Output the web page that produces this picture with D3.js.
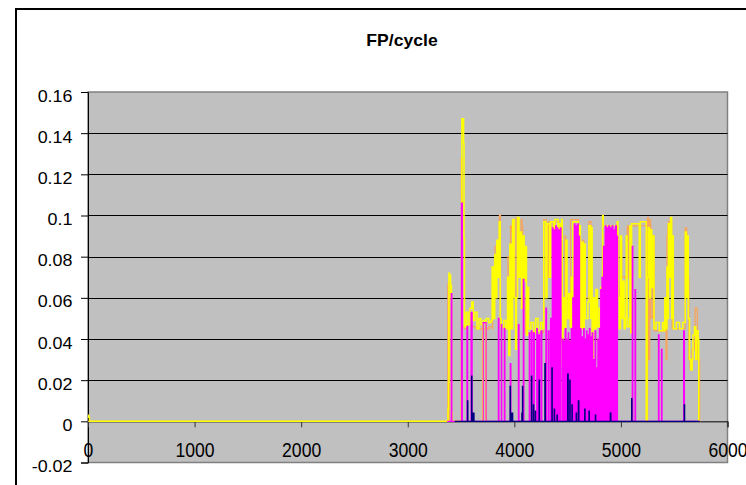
<!DOCTYPE html>
<html><head><meta charset="utf-8">
<script src="https://cdn.jsdelivr.net/npm/d3@7/dist/d3.min.js"></script>
<style>
body{margin:0;background:#fff;}
svg{display:block;font-family:"Liberation Sans",Arial,Helvetica,sans-serif;}
</style>
</head><body>
<svg id="chart" width="746" height="485"></svg>
<script>
// ---------- data ----------
const chartTitle = "FP/cycle";
const xTicks = [0, 1000, 2000, 3000, 4000, 5000, 6000];
const xTickLabels = ["0", "1000", "2000", "3000", "4000", "5000", "6000"];
const yTicks = [-0.02, 0, 0.02, 0.04, 0.06, 0.08, 0.1, 0.12, 0.14, 0.16];
const yTickLabels = ["-0.02", "0", "0.02", "0.04", "0.06", "0.08", "0.1", "0.12", "0.14", "0.16"];

// orange series [x, value]
const orangePts = [[0,0],[3372,0],[3376,0.066],[3382,0.068],[3386,0.062],[3390,0],[3500,0],[3503,0.128],[3508,0.11],[3512,0.046],[3530,0.045],[3560,0.047],[3600,0.046],[3640,0.045],[3700,0.045],[3760,0.046],[3792,0.045],[3796,0.07],[3815,0.064],[3819,0.085],[3840,0.08],[3844,0.07],[3856,0.075],[3860,0.1],[3866,0.1],[3870,0.046],[3900,0.045],[3936,0.046],[3940,0.08],[3960,0.085],[3964,0.095],[3976,0.092],[3980,0.06],[4010,0.055],[4016,0.099],[4030,0.097],[4036,0.075],[4060,0.08],[4064,0.098],[4072,0.095],[4078,0.06],[4100,0.055],[4104,0.043],[4270,0.044],[4276,0.098],[4300,0.095],[4306,0.07],[4316,0.07],[4320,0.097],[4340,0.095],[4344,0.08],[4360,0.082],[4364,0.097],[4420,0.096],[4424,0.05],[4470,0.052],[4474,0.09],[4482,0.088],[4486,0.06],[4524,0.06],[4528,0.098],[4600,0.097],[4604,0.07],[4640,0.065],[4644,0.088],[4652,0.085],[4656,0.06],[4694,0.06],[4698,0.097],[4720,0.095],[4724,0.05],[4824,0.05],[4828,0.09],[4960,0.095],[4966,0.09],[4972,0.06],[4990,0.065],[4994,0.088],[5004,0.085],[5008,0.07],[5056,0.07],[5060,0.095],[5070,0.092],[5074,0.07],[5094,0.07],[5098,0.095],[5236,0.097],[5240,0],[5246,0],[5250,0.099],[5258,0.098],[5262,0.03],[5266,0.03],[5270,0.098],[5278,0.095],[5282,0.05],[5296,0.05],[5300,0.09],[5308,0.088],[5312,0.044],[5410,0.044],[5414,0.06],[5420,0.058],[5424,0.03],[5428,0.03],[5432,0.09],[5440,0.095],[5446,0.097],[5452,0.085],[5458,0.085],[5462,0.099],[5470,0.097],[5476,0.09],[5482,0.045],[5600,0.045],[5604,0.094],[5616,0.092],[5620,0.09],[5626,0.07],[5632,0.07],[5638,0.03],[5650,0.025],[5664,0.025],[5668,0.035],[5690,0.04],[5696,0.055],[5714,0.054],[5718,0.03],[5734,0.03],[5738,0],[5744,0]];

// yellow series [x, value] (value holds until the next x)
const yellowPts = [[0,0.003],[6,0.002],[14,0],[3372,0],[3378,0.006],[3382,0.019],[3386,0.072],[3392,0.069],[3397,0.071],[3402,0.06],[3406,0.066],[3410,0.004],[3416,0],
[3500,0],[3504,0.02],[3508,0.147],[3514,0.141],[3520,0.147],[3524,0.135],[3528,0.089],
[3532,0.046],[3548,0.053],[3566,0.047],[3584,0.055],[3600,0.058],[3614,0.049],[3630,0.053],[3650,0.045],[3668,0.05],[3686,0.047],[3703,0],[3708,0.049],[3732,0],[3736,0.05],[3760,0.048],
[3782,0.049],[3792,0.075],[3806,0.05],[3816,0.081],[3828,0.06],[3836,0.088],[3848,0.07],[3858,0.097],[3868,0.05],[3876,0.046],[3900,0.049],[3920,0.045],[3936,0.07],[3948,0.032],[3958,0.086],[3970,0.045],[3984,0.098],[3998,0.06],[4012,0.035],[4020,0.06],[4030,0.099],[4044,0.07],[4056,0.092],[4068,0.055],[4080,0.09],[4092,0.068],[4104,0.085],[4114,0.042],[4124,0.065],[4134,0.045],[4156,0.048],[4180,0.043],[4200,0.05],[4222,0.044],[4246,0.048],[4266,0.045],
[4276,0.097],[4296,0.06],[4306,0.096],[4330,0.07],[4340,0.097],[4370,0.09],[4380,0.098],[4410,0.06],[4420,0.096],[4436,0.055],[4444,0.098],[4450,0.028],
[4456,0.06],[4470,0.045],[4484,0.088],[4494,0.05],[4510,0.062],[4524,0.046],[4534,0.07],[4544,0.045],
[4550,0.097],[4600,0.06],[4608,0.095],[4620,0.045],
[4632,0.087],[4646,0.045],[4656,0.086],[4666,0.05],[4690,0.058],[4700,0.095],[4716,0.05],[4722,0.094],[4730,0.03],
[4738,0.06],[4752,0.045],[4766,0.064],[4780,0.046],[4796,0.055],[4812,0.065],[4822,0.05],[4828,0.1],
[4834,0.095],[4966,0.097],
[4972,0.06],[4984,0.045],[4996,0.09],[5006,0.05],[5018,0.068],[5030,0.045],
[5040,0.05],[5050,0.09],[5058,0.046],[5078,0.05],
[5084,0.095],[5092,0.043],[5100,0.096],[5172,0.07],[5182,0.097],[5238,0],[5242,0],
[5246,0.07],[5256,0.094],[5268,0.06],[5278,0.093],[5290,0.065],[5300,0.09],[5310,0.045],
[5330,0.048],[5360,0.044],[5390,0.048],[5406,0.044],
[5412,0.06],[5424,0.045],[5432,0.075],[5440,0.05],[5446,0.096],[5458,0.07],[5466,0.099],[5476,0.05],[5484,0.09],[5492,0.045],
[5520,0.048],[5550,0.045],[5580,0.048],
[5604,0.092],[5614,0.06],[5622,0.09],[5632,0.05],
[5644,0.03],[5656,0.025],[5668,0.03],
[5676,0.042],[5690,0.046],[5702,0.03],[5712,0.044],[5724,0.04],[5730,0],[5740,0]];

// magenta series: flat at 0 over its range, with spikes [xStart, xEnd, value]
const magentaRange = [3370, 5740];
const magentaSpikes = [[3408,3414,0.062],[3504,3512,0.106],[3555,3562,0.046],[3594,3604,0.053],[3708,3735,0.048],[3850,3856,0.05],[3878,3882,0.047],[3906,3912,0.045],[3962,3968,0.028],[4038,4044,0.047],[4084,4090,0.069],[4140,4146,0.043],[4160,4166,0.044],[4180,4188,0.043],[4210,4216,0.045],[4226,4236,0.042],[4250,4258,0.044],[4296,4302,0.055],[4318,4326,0.044],[4340,4346,0.05],[4356,4364,0.094],[4372,4380,0.093],[4388,4394,0.095],[4400,4408,0.094],[4416,4424,0.093],[4432,4438,0.094],[4452,4456,0.04],[4466,4470,0.039],[4478,4484,0.045],[4492,4496,0.04],[4506,4510,0.043],[4520,4524,0.039],[4534,4540,0.045],[4548,4554,0.06],[4562,4570,0.096],[4576,4586,0.095],[4592,4600,0.096],[4608,4612,0.09],[4622,4626,0.045],[4636,4640,0.041],[4650,4656,0.045],[4664,4668,0.04],[4676,4682,0.044],[4690,4694,0.042],[4704,4710,0.045],[4718,4722,0.041],[4730,4736,0.043],[4744,4748,0.03],[4758,4764,0.044],[4772,4776,0.026],[4784,4790,0.04],[4798,4804,0.045],[4810,4816,0.064],[4822,4830,0.07],[4836,4846,0.085],[4852,4862,0.095],[4868,4878,0.094],[4884,4894,0.095],[4900,4910,0.094],[4916,4926,0.095],[4932,4942,0.093],[4948,4958,0.095],[4962,4968,0.09],[5106,5112,0.085],[5132,5138,0.064],[5352,5358,0.042],[5380,5386,0.035],[5588,5596,0.044]];

// navy series: flat at 0 over its range, with spikes [xStart, xEnd, value]
const navyRange = [3440, 5740];
const navySpikes = [[3560,3564,0.01],[3598,3602,0.022],[3612,3622,0.004],[3960,3964,0.017],[3975,3985,0.004],[4070,4074,0.004],[4076,4080,0.017],[4160,4164,0.022],[4178,4182,0.008],[4196,4200,0.005],[4232,4236,0.02],[4286,4292,0.028],[4352,4356,0.026],[4374,4378,0.006],[4400,4404,0.003],[4500,4506,0.023],[4520,4524,0.02],[4540,4544,0.008],[4580,4584,0.004],[4600,4606,0.01],[4660,4664,0.006],[4700,4704,0.005],[4760,4764,0.003],[4900,4906,0.004],[5100,5104,0.011],[5594,5598,0.008]];

const seriesColors = {orange:"#F7A55C", yellow:"#FFFF00", magenta:"#FF00FF", navy:"#000080"};

// ---------- drawing ----------
const svg = d3.select("#chart");
const W = 746, H = 485;
const plot = {left: 88, right: 727.5, top: 92, bottom: 462.5};

const x = d3.scaleLinear().domain([0, 6000]).range([plot.left, plot.right]);
const y = d3.scaleLinear().domain([-0.02, 0.16]).range([plot.bottom, plot.top]);

svg.append("rect").attr("width", W).attr("height", H).attr("fill", "#fff");
// outer chart border (extends past the window)
svg.append("rect").attr("x", 16).attr("y", 9).attr("width", 900).attr("height", 700)
  .attr("fill", "#fff").attr("stroke", "#000").attr("stroke-width", 2);

// plot area
svg.append("rect").attr("x", plot.left).attr("y", plot.top)
  .attr("width", plot.right - plot.left).attr("height", plot.bottom - plot.top)
  .attr("fill", "#C0C0C0").attr("stroke", "#808080").attr("stroke-width", 1.5);

// gridlines
svg.append("g").selectAll("line").data(yTicks.filter(v => v > 0 && v < 0.16)).join("line")
  .attr("x1", plot.left).attr("x2", plot.right)
  .attr("y1", d => Math.round(y(d)) + 0.5).attr("y2", d => Math.round(y(d)) + 0.5)
  .attr("stroke", "#000").attr("stroke-width", 1);

// y axis
const yAxis = svg.append("g").attr("transform", `translate(${plot.left},0)`)
  .call(d3.axisLeft(y).tickValues(yTicks).tickSize(7).tickFormat((d, i) => yTickLabels[i]));
yAxis.select(".domain").attr("stroke", "#000");
yAxis.selectAll(".tick line").attr("stroke", "#000");
yAxis.selectAll(".tick text").remove();
yAxis.selectAll(".tick").append("g").attr("transform", "translate(-15.5,9) scale(1.12,1)")
  .append("text").attr("text-anchor", "end").attr("font-size", 16).attr("fill", "#000")
  .text((d, i) => yTickLabels[i]);

// x axis at y = 0
const xAxis = svg.append("g").attr("transform", `translate(0,${y(0)})`)
  .call(d3.axisBottom(x).tickValues(xTicks).tickSize(6).tickFormat((d, i) => xTickLabels[i]));
xAxis.select(".domain").attr("stroke", "#000");
xAxis.selectAll(".tick line").attr("stroke", "#333");
xAxis.selectAll(".tick text").remove();
xAxis.selectAll(".tick").append("g").attr("transform", "translate(0,36) scale(1.1,1.22)")
  .append("text").attr("text-anchor", "middle").attr("font-size", 16).attr("fill", "#000")
  .text((d, i) => xTickLabels[i]);

// series
const lineStep = d3.line().x(d => x(d[0])).y(d => y(d[1])).curve(d3.curveStepAfter);
const lineLin = d3.line().x(d => x(d[0])).y(d => y(d[1]));
function spikesToPts(range, spikes) {
  const pts = [[range[0], 0]];
  spikes.forEach(s => { pts.push([s[0], 0], [s[0], s[2]], [s[1], s[2]], [s[1], 0]); });
  pts.push([range[1], 0]);
  return pts;
}
const seriesList = [
  {name: "orange", pts: orangePts, gen: lineStep, w: 1.3},
  {name: "yellow", pts: yellowPts, gen: lineStep, w: 1.5},
  {name: "magenta", pts: spikesToPts(magentaRange, magentaSpikes), gen: lineLin, w: 1.2},
  {name: "navy", pts: spikesToPts(navyRange, navySpikes), gen: lineLin, w: 1.2}
];
svg.append("g").selectAll("path").data(seriesList).join("path")
  .attr("d", d => d.gen(d.pts))
  .attr("fill", "none")
  .attr("stroke", d => seriesColors[d.name])
  .attr("stroke-width", d => d.w)
  .attr("stroke-linejoin", "miter");

// title
svg.append("g").attr("transform", "translate(402,46) scale(1.1,1)")
  .append("text").attr("text-anchor", "middle").attr("font-size", 16).attr("font-weight", "bold")
  .attr("fill", "#000").text(chartTitle);
</script>
</body></html>
